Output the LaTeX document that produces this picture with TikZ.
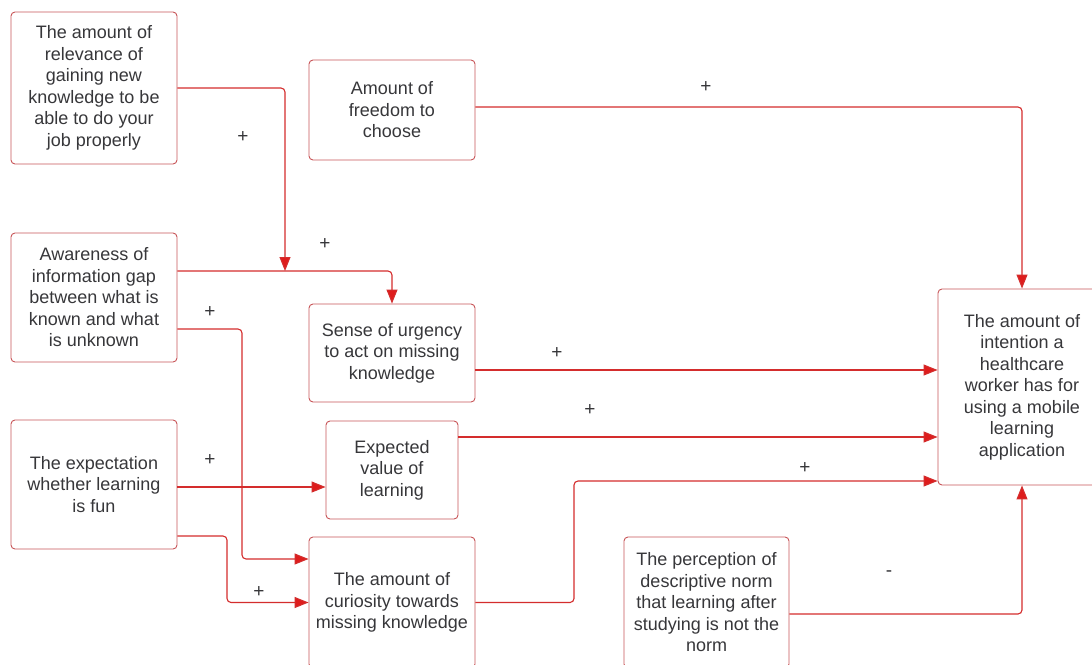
\documentclass[tikz,border=0pt]{standalone}
\usepackage{fontspec}
\setmainfont{Liberation Sans}
\usetikzlibrary{arrows.meta}
\definecolor{boxred}{RGB}{200,85,88}
\definecolor{linered}{RGB}{212,45,45}
\definecolor{tipred}{RGB}{222,28,28}
\definecolor{txt}{RGB}{55,55,58}
\tikzset{
  box/.style={draw=boxred, line width=0.9pt, rounded corners=4pt, align=center,
    text=txt, font=\fontsize{18}{21.5}\selectfont, inner sep=2pt, fill=white},
  arr/.style={draw=linered, line width=1.1pt, rounded corners=4pt,
    -{Triangle[length=14pt,width=11pt,fill=tipred]}},
  sign/.style={text=txt, font=\fontsize{19}{19}\selectfont, inner sep=0pt}
}
\begin{document}
\begin{tikzpicture}[x=1pt,y=-1pt]
\useasboundingbox (0,0) rectangle (1092,664);
\clip (0,0) rectangle (1092,664);
\fill[white] (0,0) rectangle (1092,664);
% boxes
\node[box, minimum width=166pt, minimum height=152pt] (rel) at (94,88)
  {The amount of\\relevance of\\gaining new\\knowledge to be\\able to do your\\job properly};
\node[box, minimum width=166pt, minimum height=100pt] (free) at (392,110)
  {Amount of\\freedom to\\choose};
\node[box, minimum width=166pt, minimum height=129pt] (aware) at (94,297.5)
  {Awareness of\\information gap\\between what is\\known and what\\is unknown};
\node[box, minimum width=166pt, minimum height=98pt] (urg) at (392,353)
  {Sense of urgency\\to act on missing\\knowledge};
\node[box, minimum width=132pt, minimum height=98pt] (exp) at (392,470)
  {Expected\\value of\\learning};
\node[box, minimum width=166pt, minimum height=129pt] (fun) at (94,484.5)
  {The expectation\\whether learning\\is fun};
\node[box, minimum width=166pt, minimum height=131pt] (cur) at (392,602.5)
  {The amount of\\curiosity towards\\missing knowledge};
\node[box, minimum width=165pt, minimum height=131pt] (norm) at (706.5,602.5)
  {The perception of\\descriptive norm\\that learning after\\studying is not the\\norm};
\node[box, minimum width=168pt, minimum height=196pt] (intent) at (1022,387)
  {The amount of\\intention a\\healthcare\\worker has for\\using a mobile\\learning\\application};
% helper coordinates
\coordinate (j1) at (285,271);
\coordinate (k1) at (242,559);
\coordinate (k2) at (227,602.5);
\coordinate (k3) at (574,481);
% connectors
\draw[arr] (rel.east) -| (j1);
\draw[arr] (aware.east |- j1) -| (urg.north);
\draw[arr] ([yshift=-31.5pt]aware.east) -| (k1) -- (cur.west |- k1);
\draw[arr] ([yshift=-2.5pt]fun.east) coordinate (f1) -- (exp.west |- f1);
\draw[arr] ([yshift=-51.5pt]fun.east) -| (k2) -- (cur.west);
\draw[arr] ([yshift=-17pt]urg.east) coordinate (u1) -- (intent.west |- u1);
\draw[arr] ([yshift=33pt]exp.east) coordinate (e1) -- (intent.west |- e1);
\draw[arr] (cur.east) -| (k3) -- (intent.west |- k3);
\draw[arr] ([yshift=3pt]free.east) -| (intent.north);
\draw[arr] ([yshift=-11.5pt]norm.east) -| (intent.south);
% signs
\node[sign] (s1) at (243,137) {+};
\node[sign] (s2) at (325,244) {+};
\node[sign] (s3) at (210,312) {+};
\node[sign] (s4) at (210,460) {+};
\node[sign] (s5) at (259,592) {+};
\node[sign] (s6) at (557,353) {+};
\node[sign] (s7) at (590,410) {+};
\node[sign] (s8) at (805,468) {+};
\node[sign] (s9) at (706,87) {+};
\node[sign] (s10) at (889,574) {-};
\end{tikzpicture}
\end{document}
